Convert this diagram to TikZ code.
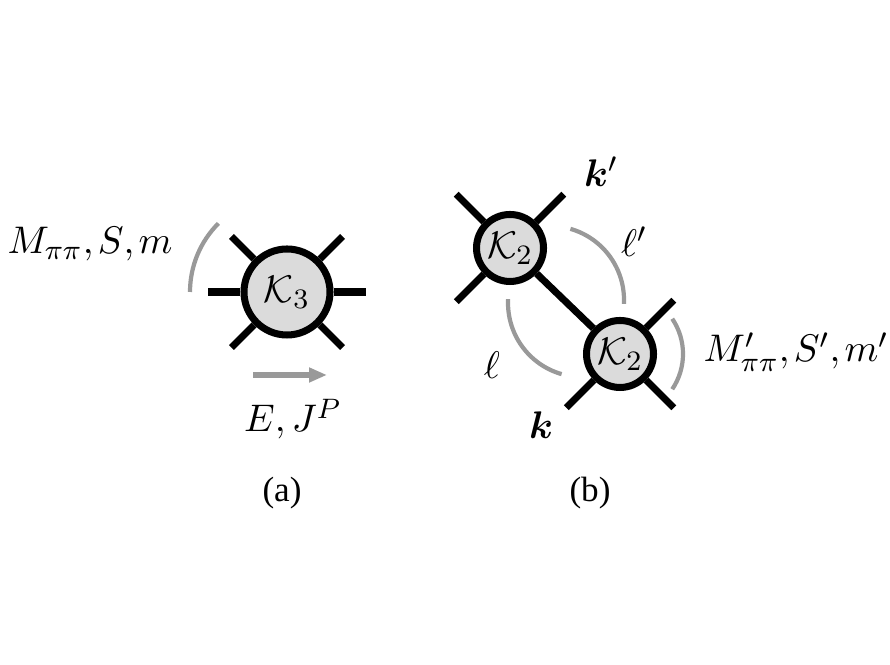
\documentclass[tikz,border=0pt,11pt]{standalone}
\usepackage{fontspec}
\newfontfamily\capfont{Liberation Serif}
\usepackage{bm}
\usetikzlibrary{arrows.meta,calc}

\begin{document}
\begin{tikzpicture}[line width = 2pt,
    kbig/.style = {circle, draw, fill = black!14, minimum size = .86cm, inner sep = 0pt},
    ksmall/.style = {circle, draw, fill = black!14, minimum size = .67cm, inner sep = 0pt},
    guide/.style = {black!40, line width = 1.2pt},
    lbl/.style = {inner sep = 0pt}]
\useasboundingbox (0,0) rectangle (8.9,6.65);
\draw (2.87,3.73) node[kbig](k3){$\mathcal{K}_3$}
    (5.10,4.17) node[ksmall](k2a){$\mathcal{K}_2$}
    (6.20,3.11) node[ksmall](k2b){$\mathcal{K}_2$};
    \foreach \a in {0,45,135,180,225,315}
        \draw (k3.\a) -- +(\a:.32);
    \foreach \a in {45,135,225}
        \draw (k2a.\a) -- +(\a:.39);
    \foreach \a in {45,225,315}
        \draw (k2b.\a) -- +(\a:.39);
    \draw (k2a) -- (k2b);
    \coordinate (mid) at ($(k2a)!.5!(k2b)$);
    \draw [guide] (k3) ++(135:.97) arc[start angle = 135, end angle = 180, radius = .97];
    \draw [guide] (k2b) ++(-34:.63) arc[start angle = -34, end angle = 34, radius = .63];
    \draw [guide] (mid) ++(-.15,.01) ++(74:.74) arc[start angle = 74, end angle = -3, radius = .74];
    \draw [guide] (mid) ++(.17,-.02) ++(177:.74) arc[start angle = 177, end angle = 254, radius = .74];
    \coordinate (ea) at (2.53,2.90);
    \coordinate (eb) at (3.27,2.90);
    \draw [guide, line width = 1.6pt, -{Triangle[length = .18cm, width = .14cm]}] (ea) -- (eb);
    \node[lbl, anchor = base east] (mlbl) at (1.76,4.11) {$M_{\pi\pi}{,}\mkern2mu S{,}\mkern2mu m$};
    \node[lbl, anchor = base] (elbl) at (2.93,2.33) {$E,J^P$};
    \node[lbl, anchor = base west] (mplbl) at (7.00,3.03) {$M'_{\pi\pi}{,}\mkern2mu S'{,}\mkern2mu m'$};
    \node[lbl] (kp) at (6.01,4.93) {$\bm{k}'$};
    \node[lbl] (k) at (5.41,2.40) {$\bm{k}$};
    \node[lbl] (lp) at (6.34,4.23) {$\ell'$};
    \node[lbl] (l) at (4.92,3.00) {$\ell$};
    \node[lbl, anchor = base] (capa) at (2.82,1.63) {\capfont\small (a)};
    \node[lbl, anchor = base] (capb) at (5.90,1.63) {\capfont\small (b)};
\end{tikzpicture}
\end{document}
